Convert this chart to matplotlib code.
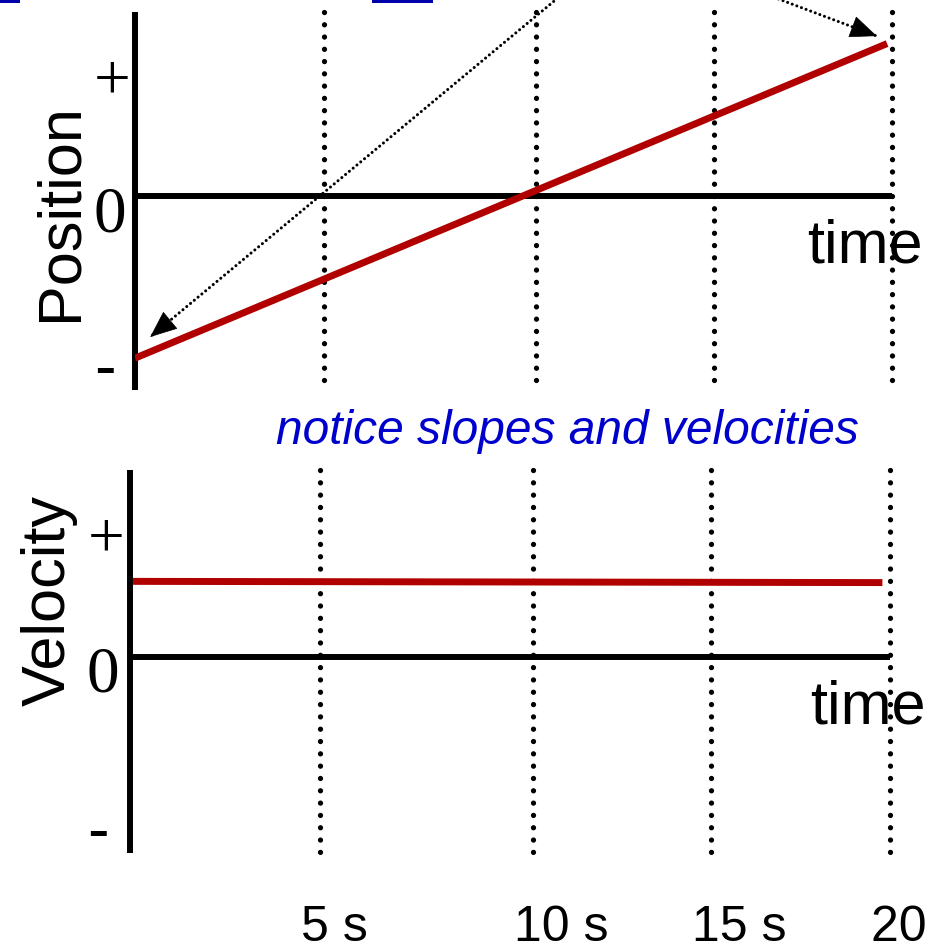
import numpy as np
import matplotlib
matplotlib.use("Agg")
import matplotlib.pyplot as plt
from matplotlib.patches import Rectangle

# values
guide_times = [5.0, 10.6, 15.3, 20.0]          # dotted time markers (s)
time_labels = ["5 s", "10 s", "15 s", "20 s"]
pos_t = [0.0, 19.87]
pos_vals = [-1.34, 1.26]                         # position, arbitrary units
vel_t = [0.08, 19.8]
vel_vals = [0.62, 0.61]                          # velocity, arbitrary units
level_marks = ["+", "0", "-"]
arrow_tips = [(0.4, -1.165), (19.6, 1.322)]      # where the dotted arrows point (data)
arrow_starts = [(565, -8), (760, -8)]            # above the crop, in picture pixels

W, H = 927, 951
RED = "#B00000"
BLUE = "#0000CC"


def fx(x):
    return x / W


def fy(y):
    return 1 - y / H


fig = plt.figure(figsize=(W / 100, H / 100), dpi=100)
fig.patch.set_facecolor("white")

ax1 = fig.add_axes([fx(135), fy(390), 757 / W, 378 / H])
ax2 = fig.add_axes([fx(130), fy(853), 760 / W, 383 / H])
ax1.set_ylim(-1.603, 1.521)
ax2.set_ylim(-1.607, 1.533)

for ax in (ax1, ax2):
    ax.set_xlim(0, 20)
    for side in ("top", "right", "bottom"):
        ax.spines[side].set_visible(False)
    ax.spines["left"].set_linewidth(4.3)
    ax.spines["left"].set_capstyle("butt")
    ax.set_xticks([])
    ax.set_yticks([])
    ax.patch.set_alpha(0)
    ax.plot([0, 20], [0, 0], color="black", lw=4.3, solid_capstyle="butt", zorder=2)

# dotted time markers (drawn top-down so the first dot sits at the top)
for t in guide_times:
    ax1.plot([t, t], [1.521, -1.521], color="black", lw=3.8, ls=(0, (0.01, 2.314)),
             dash_capstyle="round", clip_on=False, zorder=1)
    ax2.plot([t, t], [1.533, -1.598], color="black", lw=3.8, ls=(0, (0.01, 2.324)),
             dash_capstyle="round", clip_on=False, zorder=1)

ax1.plot(pos_t, pos_vals, color=RED, lw=5, solid_capstyle="butt", zorder=3)
ax2.plot(vel_t, vel_vals, color=RED, lw=5, solid_capstyle="butt", zorder=3)

# dotted arrows coming from text above the crop: dotted shaft + solid head
fig.canvas.draw()
for tip, (sx, sy) in zip(arrow_tips, arrow_starts):
    start = (sx, H - sy)
    ax1.annotate("", xy=tip, xycoords="data", xytext=start, textcoords="figure pixels",
                 arrowprops=dict(arrowstyle="-", linestyle=(0, (0.01, 1.6)), lw=2.2,
                                 color="black", capstyle="round", shrinkA=0, shrinkB=0),
                 annotation_clip=False)
    tx, ty = ax1.transData.transform(tip)
    d = np.array([start[0] - tx, start[1] - ty])
    d = d / np.hypot(*d) * 22
    ax1.annotate("", xy=tip, xycoords="data", xytext=(d[0], d[1]), textcoords="offset pixels",
                 arrowprops=dict(arrowstyle="-|>,head_length=0.6,head_width=0.25", lw=0.5,
                                 color="black", mutation_scale=30, shrinkA=0, shrinkB=0),
                 annotation_clip=False)

# axis titles
fig.text(fx(77), fy(212), "Position", rotation=90, rotation_mode="anchor",
         ha="center", va="baseline", fontsize=44, family="Liberation Sans")
fig.text(fx(65), fy(601), "Velocity", rotation=90, rotation_mode="anchor",
         ha="center", va="baseline", fontsize=44, family="Liberation Sans")
fig.text(fx(807), fy(262), "time", ha="left", va="baseline", fontsize=44,
         family="Liberation Sans")
fig.text(fx(810), fy(723), "time", ha="left", va="baseline", fontsize=44,
         family="Liberation Sans")

# + / 0 / - marks
top_marks = [(112, 98), (110, 232), (105, 388)]
bot_marks = [(106, 557), (103, 692), (98, 851)]
for marks in (top_marks, bot_marks):
    for s, (x, y) in zip(level_marks, marks):
        fam = "Liberation Sans" if s == "-" else "Liberation Serif"
        fig.text(fx(x), fy(y), s, ha="center", va="baseline", fontsize=47, family=fam)

fig.text(fx(276), fy(444), "notice slopes and velocities", ha="left", va="baseline",
         fontsize=34.5, style="italic", color=BLUE, family="Liberation Sans")

# time labels under the lower panel
for t, lbl in zip(guide_times, time_labels):
    ax2.annotate(lbl, xy=(t, fy(941)), xycoords=("data", "figure fraction"),
                 xytext=(-19, 0), textcoords="offset pixels", ha="left", va="baseline",
                 fontsize=36, family="Liberation Sans", annotation_clip=False)

# link underlines cut at the top edge
fig.add_artist(Rectangle((0, fy(3)), fx(20), 3 / H, transform=fig.transFigure,
                         color="#0000AA", lw=0))
fig.add_artist(Rectangle((fx(372), fy(3)), fx(61), 3 / H, transform=fig.transFigure,
                         color="#0000AA", lw=0))

fig.savefig("out.png", dpi=100)
